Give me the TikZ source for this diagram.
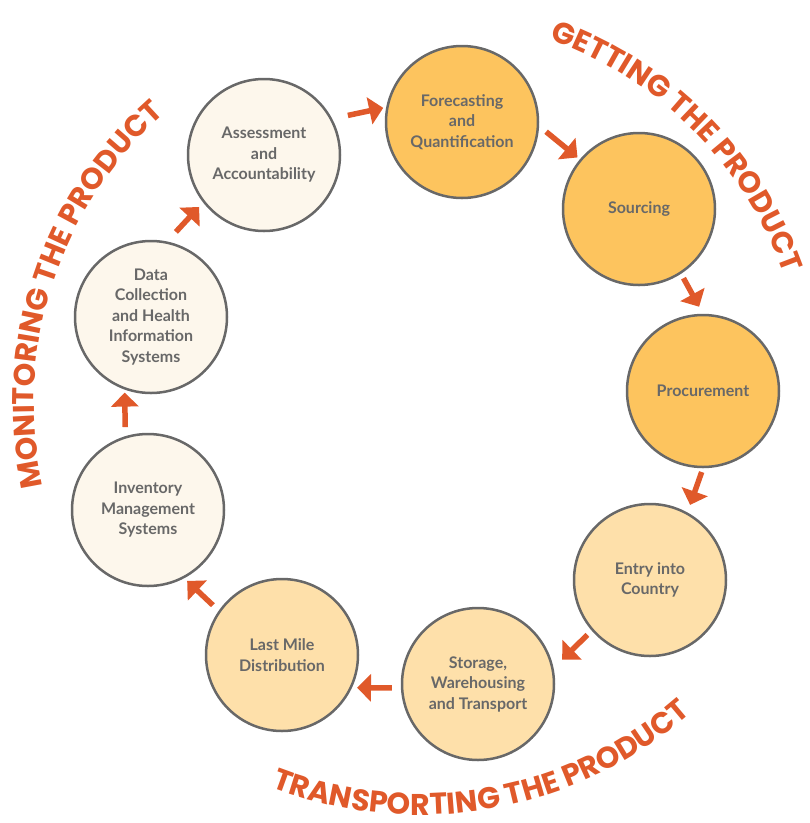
\documentclass[tikz,border=0pt]{standalone}
\usepackage{fontspec}
\setmainfont{Lato}
\newfontfamily\heavy{Poppins}
\usetikzlibrary{arrows.meta,decorations.text}
\definecolor{rust}{HTML}{E0592A}
\definecolor{ringgray}{HTML}{686868}
\definecolor{getfill}{HTML}{FDC45E}
\definecolor{movefill}{HTML}{FEE0AA}
\definecolor{watchfill}{HTML}{FDF7EC}

\begin{document}
\begin{tikzpicture}[
  x=1pt, y=1pt,
  font=\bfseries\fontsize{16}{20.5}\selectfont,
  >={Triangle[length=14pt,width=27pt]},
  stage/.style={circle,draw=ringgray,line width=2.5pt,minimum size=152pt,inner sep=0pt,align=center,text=ringgray},
  getting/.style={stage,fill=getfill},
  moving/.style={stage,fill=movefill},
  watching/.style={stage,fill=watchfill},
  flow/.style={->,draw=rust,line width=5.5pt},
  phase/.style={decorate,decoration={text along path,text align=center,text color=rust,
    text={|\heavy\bfseries\fontsize{30}{30}\selectfont|#1}}}
]
\useasboundingbox (0,0) rectangle (810,-823);
\coordinate (hub) at (420,-403);

% ---- Stages ----
\node[getting] (fore) at (462,-122) {Forecasting\\and\\Quantification};
\node[getting] (src) at (639,-209) {Sourcing};
\node[getting] (proc) at (703,-391) {Procurement};
\node[moving] (entry) at (650,-580) {Entry into\\Country};
\node[moving] (store) at (478,-684) {Storage,\\Warehousing\\and Transport};
\node[moving] (last) at (282,-655) {Last Mile\\Distribution};
\node[watching] (inv) at (148,-510) {Inventory\\Management\\Systems};
\node[watching] (data) at (151,-317) {Data\\Collection\\and Health\\Information\\Systems};
\node[watching] (acc) at (264,-155) {Assessment\\and\\Accountability};

% ---- Arrows ----
\foreach \a/\sa/\b/\sb/\s/\e in {acc/28/fore/169/16/3, fore/357/src/140/9/3,
  src/303/proc/90/5/8, proc/270/entry/61/4/8, entry/221/store/12/6/12,
  store/183/last/335/9/5, last/145/inv/298/8/4, inv/107/data/250/9/3,
  data/78/acc/218/13/6} {
  \draw[flow,shorten <=\s pt,shorten >=\e pt] (\a.\sa) -- (\b.\sb);
}

% ---- Phase labels ----
\path[phase={GETTING THE PRODUCT}] (hub) ++(96:386) arc[start angle=96,end angle=-6,radius=386];
\path[phase={MONITORING THE PRODUCT}] (hub) ++(213:386) arc[start angle=213,end angle=111,radius=386];
\path[phase={TRANSPORTING THE PRODUCT}] (hub) ++(229:412) arc[start angle=229,end angle=331,radius=412];

\end{tikzpicture}
\end{document}
